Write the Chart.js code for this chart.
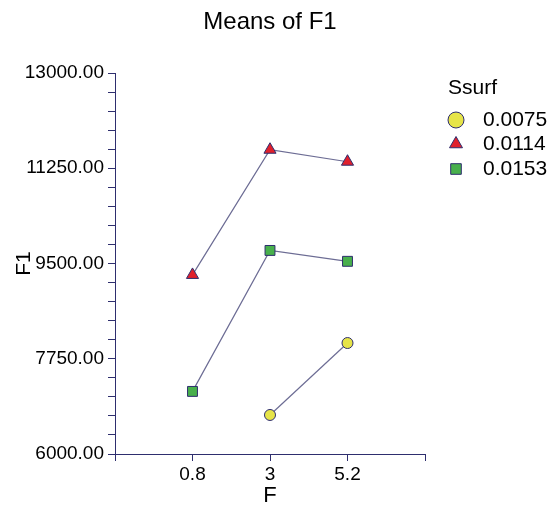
<!DOCTYPE html>
<html>
<head>
<meta charset="utf-8">
<script src="https://cdn.jsdelivr.net/npm/chart.js@4.4.0/dist/chart.umd.min.js"></script>
<style>
    html, body { margin: 0; padding: 0; background: #ffffff; }
    #wrap { width: 559px; height: 509px; }
</style>
</head>
<body>
<div id="wrap"><canvas id="meansChart" width="559" height="509"></canvas></div>
<script>
// dane
const categories = ['0.8', '3', '5.2'];
const groups = ['0.0075', '0.0114', '0.0153'];
const s0075 = [null, 6717, 8039];
const s0114 = [9290, 11590, 11370];
const s0153 = [7150, 9740, 9540];
const yMin = 6000, yMax = 13000, yMajor = 1750, yMinor = 350;

const FONT = "'Liberation Sans', Arial, sans-serif";
const AXIS = '#2e2e6e';
const LINE = '#6c6c94';

const styles = [
    { color: '#e6e448', style: 'circle', radius: 5.5, legendRadius: 8 },
    { color: '#e0202c', style: 'triangle', radius: 7, legendRadius: 7.5 },
    { color: '#48b04c', style: 'rect', radius: 7, legendRadius: 7.5 }
];
const series = [s0075, s0114, s0153];

const datasets = series.map((vals, i) => ({
    label: groups[i],
    data: vals.map((v, j) => ({ x: j + 1, y: v })),
    borderColor: LINE,
    borderWidth: 1.2,
    pointStyle: styles[i].style,
    pointRadius: styles[i].radius,
    pointBackgroundColor: styles[i].color,
    pointBorderColor: AXIS,
    pointBorderWidth: 1,
    spanGaps: false,
    tension: 0
}));

// tytuł nad obszarem wykresu + legenda po prawej
const extras = {
    id: 'extras',
    afterDraw(chart) {
        const c = chart.ctx;
        const area = chart.chartArea;
        c.save();
        c.fillStyle = '#000';
        c.textBaseline = 'middle';
        c.font = `24px ${FONT}`;
        c.textAlign = 'center';
        c.fillText('Means of F1', (area.left + area.right) / 2, 22);

        c.textAlign = 'left';
        c.font = `21px ${FONT}`;
        c.fillText('Ssurf', 448, 88);
        const rowY = [120, 144, 169];
        groups.forEach((g, i) => {
            c.fillStyle = styles[i].color;
            c.strokeStyle = AXIS;
            c.lineWidth = 1;
            Chart.helpers.drawPoint(c, { pointStyle: styles[i].style, radius: styles[i].legendRadius, rotation: 0, borderWidth: 1 }, 456, rowY[i]);
            c.fillStyle = '#000';
            c.fillText(g, 483, rowY[i]);
        });
        c.restore();
    }
};

new Chart(document.getElementById('meansChart'), {
    type: 'line',
    data: { datasets },
    options: {
        responsive: false,
        animation: false,
        devicePixelRatio: 1,
        layout: { padding: { top: 73, right: 134, bottom: 0, left: 0 } },
        plugins: { legend: { display: false }, title: { display: false }, tooltip: { enabled: false } },
        scales: {
            x: {
                type: 'linear', min: 0, max: 4,
                afterFit: s => { s.height = 55; },
                ticks: {
                    stepSize: 1, color: '#000', font: { family: FONT, size: 19 }, padding: 2,
                    callback: v => categories[v - 1] ?? ''
                },
                grid: { drawOnChartArea: false, drawTicks: true, tickLength: 7, color: AXIS },
                border: { color: AXIS, width: 1 },
                title: { display: true, text: 'F', color: '#000', font: { family: FONT, size: 22 }, padding: { top: 0, bottom: 0 } }
            },
            y: {
                min: yMin, max: yMax,
                afterFit: s => { s.width = 115; },
                ticks: {
                    stepSize: yMinor, autoSkip: false, color: '#000', font: { family: FONT, size: 19 }, padding: 4,
                    callback: v => ((v - yMin) % yMajor === 0 ? v.toFixed(2) : '')
                },
                grid: { drawOnChartArea: false, drawTicks: true, tickLength: 7, color: AXIS },
                border: { color: AXIS, width: 1 },
                title: { display: true, text: 'F1', color: '#000', font: { family: FONT, size: 21 }, padding: { top: 12, bottom: 0 } }
            }
        }
    },
    plugins: [extras]
});
</script>
</body>
</html>
